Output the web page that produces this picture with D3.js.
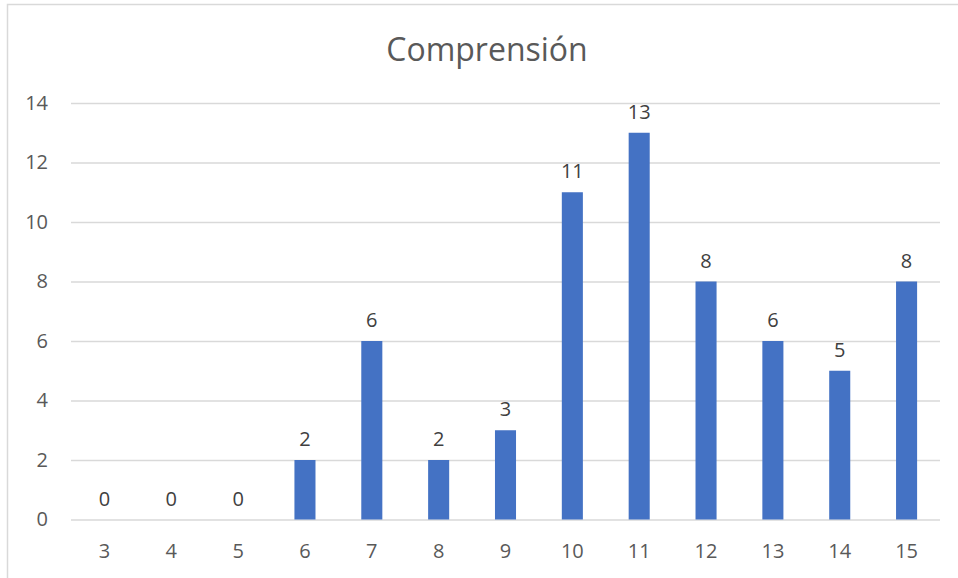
<!DOCTYPE html>
<html>
<head>
<meta charset="utf-8">
<script src="https://cdn.jsdelivr.net/npm/d3@7"></script>
<style>
  html, body { margin: 0; padding: 0; background: #fff; }
  svg { display: block; }
</style>
</head>
<body>
<svg id="chart" width="958" height="578"></svg>
<script>
// Score categories and how many students got each one
const categories = ["3", "4", "5", "6", "7", "8", "9", "10", "11", "12", "13", "14", "15"];
const counts = [0, 0, 0, 2, 6, 2, 3, 11, 13, 8, 6, 5, 8];
const yTicks = [0, 2, 4, 6, 8, 10, 12, 14];
const title = "Comprensión";

const W = 958, H = 578;
const margin = { left: 71, right: 18, top: 103, bottom: 58 };
const font = "'Open Sans', 'Noto Sans', sans-serif";

const svg = d3.select("#chart");

// outer chart frame
svg.append("rect")
  .attr("x", 7.5).attr("y", 4.5)
  .attr("width", W + 10).attr("height", H + 10)
  .attr("fill", "#fff")
  .attr("stroke", "#d9d9d9")
  .attr("stroke-width", 1.5);

const x = d3.scaleBand()
  .domain(categories)
  .range([margin.left, W - margin.right])
  .paddingInner(0.685)
  .paddingOuter(0.3425);

const y = d3.scaleLinear()
  .domain([0, 14])
  .range([H - margin.bottom - 0.5, margin.top]);

// horizontal gridlines
svg.append("g")
  .attr("transform", `translate(${margin.left},0)`)
  .call(d3.axisLeft(y).tickValues(yTicks).tickSize(-(W - margin.right - margin.left)).tickFormat(""))
  .call(g => g.select(".domain").remove())
  .call(g => g.selectAll("line").attr("stroke", "#d9d9d9").attr("stroke-width", 1.5));

// y tick labels
svg.append("g")
  .attr("transform", `translate(${margin.left},0)`)
  .call(d3.axisLeft(y).tickValues(yTicks).tickSize(0).tickPadding(23))
  .call(g => g.select(".domain").remove())
  .call(g => g.selectAll("text")
    .attr("fill", "#595959")
    .attr("font-family", font)
    .attr("font-size", 20));

// x tick labels
svg.append("g")
  .attr("transform", `translate(0,${y(0)})`)
  .call(d3.axisBottom(x).tickSize(0).tickPadding(24))
  .call(g => g.select(".domain").remove())
  .call(g => g.selectAll("text")
    .attr("fill", "#595959")
    .attr("font-family", font)
    .attr("font-size", 20));

const data = categories.map((c, i) => ({ c, v: counts[i] }));

// bars
svg.append("g")
  .selectAll("rect")
  .data(data)
  .join("rect")
  .attr("x", d => x(d.c))
  .attr("width", x.bandwidth())
  .attr("y", d => y(d.v))
  .attr("height", d => y(0) - y(d.v))
  .attr("fill", "#4472c4");

// value labels
svg.append("g")
  .selectAll("text")
  .data(data)
  .join("text")
  .attr("x", d => x(d.c) + x.bandwidth() / 2)
  .attr("y", d => y(d.v) - 14)
  .attr("text-anchor", "middle")
  .attr("fill", "#404040")
  .attr("font-family", font)
  .attr("font-size", 20)
  .text(d => d.v);

// title
svg.append("text")
  .attr("x", 487)
  .attr("y", 61)
  .attr("text-anchor", "middle")
  .attr("fill", "#595959")
  .attr("font-family", font)
  .attr("font-size", 32)
  .text(title);
</script>
</body>
</html>
